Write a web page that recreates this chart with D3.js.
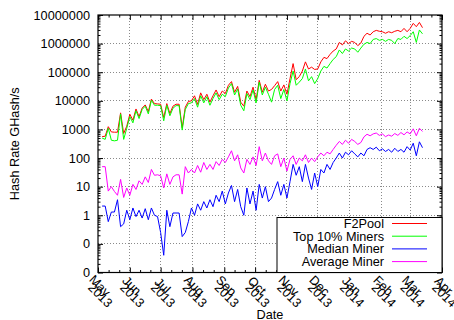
<!DOCTYPE html>
<html><head><meta charset="utf-8">
<script src="https://cdn.jsdelivr.net/npm/d3@7"></script>
<style>
body{margin:0;background:#fff;}
svg text{font-family:"Liberation Sans",Arial,Helvetica,sans-serif;font-size:12.7px;fill:#000;}
</style></head><body>
<svg id="chart" width="454" height="320"></svg>
<script>
// ---------- data ----------
const startDate = "2013-05-05";
const stepDays = 3;
const f2pool = [
 560,580,1250,820,800,800,3800,720,1300,3400,
 2100,5200,2800,5600,7200,4200,11500,8000,7800,7600,
 2600,8000,3600,6500,7600,7600,1150,6000,9500,10000,
 15000,7500,19000,11000,17000,9000,15000,24000,14000,22000,
 18000,35000,47000,20000,32000,9000,6500,22000,14000,30000,
 11000,52000,20000,38000,22000,25000,34000,47000,22000,36000,
 17000,60000,200000,55000,70000,110000,230000,130000,150000,125000,
 130000,230000,330000,300000,420000,550000,650000,1100000,900000,1250000,
 1000000,1200000,1100000,850000,1050000,1800000,2300000,2000000,2600000,2900000,
 2700000,2600000,2300000,2600000,2400000,2700000,2900000,2600000,3400000,2600000,
 3400000,5100000,3900000,5500000,3600000];
const top10 = [
 500,450,1100,420,400,420,3500,450,1100,2800,
 1700,4500,2400,5000,6500,3500,10500,7000,7000,6800,
 2000,7000,3000,5500,6800,6800,950,5000,8000,8500,
 12000,6000,15000,8500,14000,7000,12000,19000,11000,17000,
 14000,28000,40000,16000,26000,7000,4500,18000,11000,24000,
 8500,45000,16000,30000,17000,9000,25000,35000,12000,25000,
 10000,40000,110000,35000,45000,60000,130000,50000,70000,40000,
 60000,110000,160000,140000,200000,280000,350000,600000,450000,650000,
 550000,700000,650000,500000,700000,950000,1100000,1000000,1400000,1500000,
 1300000,1400000,1200000,1400000,1300000,1000000,1500000,1400000,1800000,1500000,
 1900000,2600000,1100000,3000000,2200000];
const medianMiner = [
 2.1,2.1,0.6,1.3,1.3,3.5,0.4,0.5,1.5,0.7,
 1.8,0.9,1.5,0.8,1.7,0.7,1.8,1.0,0.9,0.25,
 0.04,1.5,0.4,1.2,1.2,1.2,0.18,0.25,0.6,1.8,
 1.0,2.5,1.5,3.0,1.8,3.5,2.0,5,3,7,
 2.5,6,11,3,8,2.0,1.0,9,2.5,7,
 1.5,12,4,10,3,4,8,15,5,12,
 4,15,60,25,50,15,60,20,8,30,
 10,40,30,60,40,70,100,150,100,160,
 130,180,140,110,150,120,200,230,200,240,
 180,210,170,200,160,220,170,200,160,250,
 190,330,120,370,230];
const averageMiner = [
 50,50,7,10,6.8,5,18,4.2,9,5,
 12,8,16,12,22,14,40,25,26,24,
 9,28,12,22,26,26,5.5,50,30,40,
 30,55,32,70,40,60,40,75,55,90,
 70,110,180,80,130,45,30,90,60,110,
 55,250,80,150,80,60,120,140,50,100,
 35,90,120,60,100,80,130,70,100,75,
 110,150,120,160,140,200,280,380,300,420,
 330,450,380,300,350,550,680,600,700,750,
 620,700,560,640,580,720,620,780,650,820,
 700,1050,600,1100,850];
const seriesNames = ["F2Pool","Top 10% Miners","Median Miner","Average Miner"];
const seriesColors = ["#ff0000","#00ff00","#0000ff","#ff00ff"];
const yTickValues = [0.01,0.1,1,10,100,1000,10000,100000,1000000,10000000];
const yTickLabels = ["0","0","1","10","100","1000","10000","100000","1000000","10000000"];
const monthTicks = ["2013-05-01","2013-06-01","2013-07-01","2013-08-01","2013-09-01","2013-10-01",
 "2013-11-01","2013-12-01","2014-01-01","2014-02-01","2014-03-01","2014-04-01"];
const monthLabels = ["May","Jun","Jul","Aug","Sep","Oct","Nov","Dec","Jan","Feb","Mar","Apr"];
const yearLabels = ["2013","2013","2013","2013","2013","2013","2013","2013","2014","2014","2014","2014"];
const xLabel = "Date", yLabel = "Hash Rate GHash/s";

// ---------- layout ----------
const W=454,H=320;
const M={left:98,right:442,top:15,bottom:272.5};
const parse=d3.timeParse("%Y-%m-%d");
const start=parse(startDate);
const dates=d3.range(f2pool.length).map(i=>d3.timeDay.offset(start,i*stepDays));
const months=monthTicks.map(parse);
const x=d3.scaleTime().domain([months[0],months[months.length-1]]).range([M.left,M.right]);
const y=d3.scaleLog().domain([yTickValues[0],yTickValues[yTickValues.length-1]]).range([M.bottom,M.top]);

const svg=d3.select("#chart");
svg.append("rect").attr("width",W).attr("height",H).attr("fill","#fff");

// grid
const grid=svg.append("g").attr("stroke","#8a8a8a").attr("stroke-width",1).attr("stroke-dasharray","1,2");
months.slice(1,-1).forEach(d=>{
  const px=Math.floor(x(d))+0.5;
  grid.append("line").attr("x1",px).attr("x2",px).attr("y1",M.top).attr("y2",M.bottom);
});
yTickValues.slice(1,-1).forEach(v=>{
  const py=Math.floor(y(v))+0.5;
  grid.append("line").attr("x1",M.left).attr("x2",M.right).attr("y1",py).attr("y2",py);
});

// data
svg.append("clipPath").attr("id","clip").append("rect")
  .attr("x",M.left).attr("y",M.top).attr("width",M.right-M.left).attr("height",M.bottom-M.top);
const series=[f2pool,top10,medianMiner,averageMiner];
const line=d3.line().x(d=>x(d[0])).y(d=>y(d[1]));
const dg=svg.append("g").attr("clip-path","url(#clip)");
series.forEach((s,k)=>{
  dg.append("path").datum(s.map((v,i)=>[dates[i],v]))
    .attr("d",line).attr("fill","none").attr("stroke",seriesColors[k]).attr("stroke-width",1);
});

// minor ticks
const minorY=[];
for(let e=-2;e<7;e++) for(let m=2;m<=9;m++) minorY.push(m*Math.pow(10,e));
const minorX=[];
for(let i=0;i<months.length-1;i++){
  const a=+months[i], b=+months[i+1];
  minorX.push(new Date(a+(b-a)/3), new Date(a+2*(b-a)/3));
}
function styleAxis(g){g.select(".domain").remove();g.selectAll("line").attr("stroke","#000");}
svg.append("g").attr("transform",`translate(${M.left},0)`)
  .call(d3.axisLeft(y).tickValues(yTickValues).tickFormat((d,i)=>yTickLabels[i]).tickSize(-5).tickPadding(8))
  .call(styleAxis).call(g=>g.selectAll("text").attr("font-size",null).attr("font-family",null));
svg.append("g").attr("transform",`translate(${M.left},0)`)
  .call(d3.axisLeft(y).tickValues(minorY).tickFormat("").tickSize(-2.5)).call(styleAxis);
svg.append("g").attr("transform",`translate(${M.right},0)`)
  .call(d3.axisRight(y).tickValues(yTickValues).tickFormat("").tickSize(-5)).call(styleAxis);
svg.append("g").attr("transform",`translate(${M.right},0)`)
  .call(d3.axisRight(y).tickValues(minorY).tickFormat("").tickSize(-2.5)).call(styleAxis);
svg.append("g").attr("transform",`translate(0,${M.bottom})`)
  .call(d3.axisBottom(x).tickValues(months).tickFormat("").tickSize(-5)).call(styleAxis);
svg.append("g").attr("transform",`translate(0,${M.bottom})`)
  .call(d3.axisBottom(x).tickValues(minorX).tickFormat("").tickSize(-2.5)).call(styleAxis);
svg.append("g").attr("transform",`translate(0,${M.top})`)
  .call(d3.axisTop(x).tickValues(months).tickFormat("").tickSize(-5)).call(styleAxis);
svg.append("g").attr("transform",`translate(0,${M.top})`)
  .call(d3.axisTop(x).tickValues(minorX).tickFormat("").tickSize(-2.5)).call(styleAxis);

// x tick labels (rotated, two lines)
const xl=svg.append("g");
months.forEach((d,i)=>{
  const px=x(d);
  xl.append("text").attr("transform",`translate(${px+2},285.5) rotate(45)`)
    .attr("text-anchor","middle").attr("dy","0.35em").text(monthLabels[i]);
  xl.append("text").attr("transform",`translate(${px+2.5},295) rotate(45)`)
    .attr("text-anchor","middle").attr("dy","0.35em").text(yearLabels[i]);
});

// border
svg.append("rect").attr("x",M.left).attr("y",M.top).attr("width",M.right-M.left).attr("height",M.bottom-M.top)
  .attr("fill","none").attr("stroke","#000").attr("stroke-width",1.2);

// axis titles
svg.append("text").attr("transform",`translate(19,${(M.top+M.bottom)/2}) rotate(-90)`)
  .attr("text-anchor","middle").text(yLabel);
svg.append("text").attr("x",(M.left+M.right)/2).attr("y",318.5).attr("text-anchor","middle").text(xLabel);

// legend
const lg=svg.append("g");
lg.append("rect").attr("x",277).attr("y",217.5).attr("width",M.right-277).attr("height",M.bottom-217.5)
  .attr("fill","#fff").attr("stroke","#000").attr("stroke-width",1);
seriesNames.forEach((n,k)=>{
  const ry=223.5+k*12.7;
  lg.append("text").attr("x",384).attr("y",ry).attr("dy","0.35em").attr("text-anchor","end").text(n);
  lg.append("line").attr("x1",392).attr("x2",427).attr("y1",ry).attr("y2",ry)
    .attr("stroke",seriesColors[k]).attr("stroke-width",1);
});
</script>
</body></html>
